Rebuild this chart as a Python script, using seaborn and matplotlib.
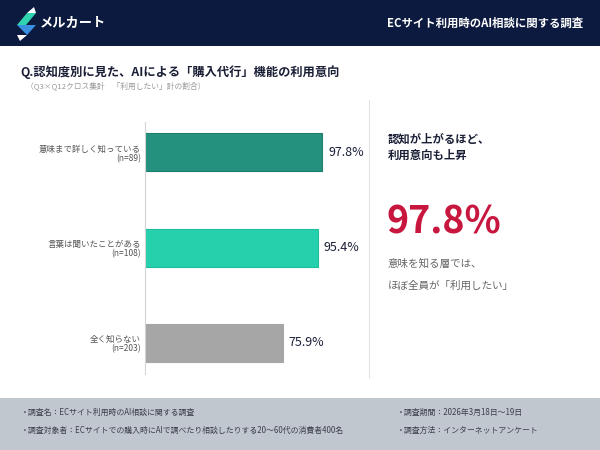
import pandas as pd
import matplotlib.pyplot as plt
import seaborn as sns
from matplotlib.patches import Polygon, Rectangle

# data
categories = ['意味まで詳しく知っている', '言葉は聞いたことがある', '全く知らない']
n_counts = [89, 108, 203]
rates = [97.8, 95.4, 75.9]
bar_colors = ['#24917e', '#26d0ad', '#a6a6a6']
edge_colors = ['#1d7f6d', '#1fbf9e', '#a6a6a6']

header_title = 'ECサイト利用時のAI相談に関する調査'
brand = 'メルカート'
chart_title = 'Q.認知度別に見た、AIによる「購入代行」機能の利用意向'
chart_note = '（Q3×Q12クロス集計　「利用したい」計の割合）'
insight_head = '認知が上がるほど、\n利用意向も上昇'
insight_value = '97.8%'
insight_lines = ['意味を知る層では、', 'ほぼ全員が「利用したい」']
footer_left = ['・調査名：ECサイト利用時のAI相談に関する調査',
               '・調査対象者：ECサイトでの購入時にAIで調べたり相談したりする20〜60代の消費者400名']
footer_right = ['・調査期間：2026年3月18日〜19日',
                '・調査方法：インターネットアンケート']

sns.set_theme(style='white')
plt.rcParams['font.family'] = ['Noto Sans CJK JP', 'DejaVu Sans']

W, H = 600, 450
fig = plt.figure(figsize=(6, 4.5), dpi=100)
fig.patch.set_facecolor('white')


def fx(px):
    return px / W


def fy(py):
    return 1 - py / H


# header band
fig.add_artist(Rectangle((0, fy(46)), 1, 46 / H, transform=fig.transFigure,
                         facecolor='#0b1a3e', edgecolor='none', zorder=0))
# logo
logo = [
    ([(17, 25), (27, 13), (36, 13), (26, 25)], '#2fd3b0'),
    ([(17, 25), (26, 25), (36, 25), (27, 35)], '#3a8fe0'),
    ([(27, 13), (34, 7), (36, 13)], 'white'),
    ([(17, 35), (27, 35), (20, 41)], 'white'),
]
for pts, col in logo:
    fig.add_artist(Polygon([(fx(x), fy(y)) for x, y in pts], closed=True,
                           transform=fig.transFigure, facecolor=col, edgecolor='none'))
fig.text(fx(40), fy(23), brand, color='white', fontsize=9.5, fontweight='bold', va='center')
fig.text(fx(583), fy(23), header_title, color='white', fontsize=8.2, fontweight='bold',
         va='center', ha='right')

# title
fig.text(fx(20), fy(72), chart_title, color='#1a1f36', fontsize=8.8, fontweight='bold', va='center')
fig.text(fx(26), fy(86), chart_note, color='#999999', fontsize=5.6, va='center')

# bar chart
df = pd.DataFrame({
    'label': [f'{c}\n(n={n})' for c, n in zip(categories, n_counts)],
    'rate': rates,
})
ax = fig.add_axes([fx(145), fy(374), fx(225), 252 / H])
sns.barplot(data=df, x='rate', y='label', hue='label', palette=bar_colors, saturation=1,
            legend=False, width=0.4, orient='h', ax=ax)
for patch, ec in zip(ax.patches, edge_colors):
    patch.set_edgecolor(ec)
    patch.set_linewidth(0.8)
for container in ax.containers:
    ax.bar_label(container, fmt='%.1f%%', padding=4, fontsize=9, color='#1a1f36')
ax.set_xlim(0, 124)
ax.set_ylim(2.33, -0.32)
ax.set_xlabel('')
ax.set_ylabel('')
ax.set_xticks([])
ax.set_yticks(range(len(df)))
ax.set_yticklabels(df['label'], fontsize=6.1, color='#555555', linespacing=1.1)
ax.tick_params(axis='y', length=0, pad=3)
for s in ['top', 'right', 'bottom']:
    ax.spines[s].set_visible(False)
ax.spines['left'].set_color('#d4d4d4')
ax.spines['left'].set_linewidth(0.8)
ax.set_facecolor('none')

# separator
fig.add_artist(plt.Line2D([fx(369), fx(369)], [fy(100), fy(378)], transform=fig.transFigure,
                          color='#e2e2e2', linewidth=0.8))

# insight panel
fig.text(fx(388), fy(147), insight_head, color='#1a1f36', fontsize=8.2, fontweight='bold',
         va='center', linespacing=1.3)
fig.text(fx(386), fy(222), insight_value, color='#c8173f', fontsize=27, fontweight='bold', va='center')
fig.text(fx(388), fy(263), insight_lines[0], color='#666666', fontsize=7.6, va='center')
fig.text(fx(388), fy(286), insight_lines[1], color='#666666', fontsize=7.6, va='center')

# footer
fig.add_artist(Rectangle((0, 0), 1, 52 / H, transform=fig.transFigure,
                         facecolor='#c1c7cf', edgecolor='none', zorder=0))
for i, (l, r) in enumerate(zip(footer_left, footer_right)):
    yy = fy(412 + i * 18)
    fig.text(fx(21), yy, l, color='#3a3f4a', fontsize=5.7, va='center')
    fig.text(fx(397), yy, r, color='#3a3f4a', fontsize=5.7, va='center')

fig.savefig('out.png', dpi=100)
